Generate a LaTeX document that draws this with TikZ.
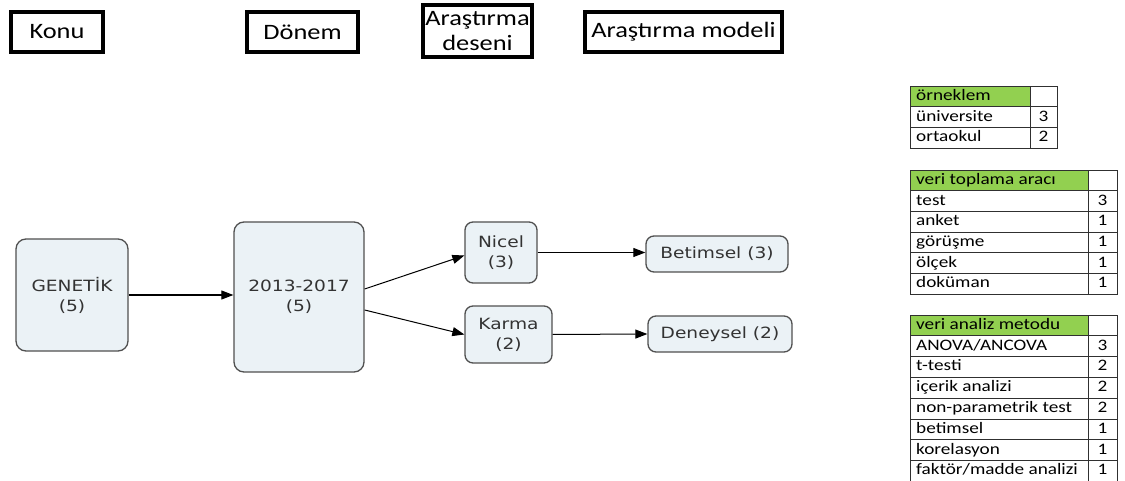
\documentclass[tikz,border=0pt]{standalone}
\usepackage{fontspec}
\setmainfont{Carlito}[FakeStretch=1.2]
\newfontfamily\verd{DejaVu Sans}[FakeStretch=1.2]
\usetikzlibrary{arrows.meta}
\definecolor{nodefill}{HTML}{EBF2F6}
\definecolor{nodeline}{HTML}{505050}
\definecolor{nodetext}{HTML}{333333}
\definecolor{hdrgreen}{HTML}{92D050}
\definecolor{tline}{HTML}{303030}
\tikzset{
 hdr/.style={draw=black, line width=3.5pt, font=\fontsize{22}{25}\selectfont, inner sep=0pt, align=center},
 box/.style={draw=nodeline, fill=nodefill, line width=1.3pt, rounded corners=10pt, text=nodetext,
   font=\verd\fontsize{15.5}{20}\selectfont, align=center, inner sep=0pt},
 smallbox/.style={box, rounded corners=8pt},
 arr/.style={-{Triangle[length=12pt,width=9pt]}, line width=1pt},
 tcell/.style={inner sep=0pt, font=\fontsize{16}{18}\selectfont, text height=11pt, text depth=3pt},
}
\newcommand\tabrow[8]{%
 \path[draw=tline, line width=0.8pt, fill=#8] (#2,#5) rectangle (#3,#5+20.7);
 \path[draw=tline, line width=0.8pt, fill=white] (#3,#5) rectangle (#4,#5+20.7);
 \node[tcell, anchor=west] (#1l) at (#2+6, #5+10.35) {#6};
 \node[tcell] (#1v) at ({(#3+#4)/2}, #5+10.35) {#7};
}
\begin{document}
\begin{tikzpicture}[x=1pt,y=-1pt]
\useasboundingbox[fill=white] (0,0) rectangle (1125,481);
% headers
\node[hdr, minimum width=92pt, minimum height=40pt] (h1) at (57,32) {Konu};
\node[hdr, minimum width=111pt, minimum height=40pt] (h2) at (302.5,32) {Dönem};
\node[hdr, minimum width=109pt, minimum height=52pt] (h3) at (477.5,31) {Araştırma\\deseni};
\node[hdr, minimum width=197pt, minimum height=40pt] (h4) at (683.5,32) {Araştırma modeli};
% flow nodes
\node[box, minimum width=112pt, minimum height=112pt] (gen) at (72,295) {GENETİK\\(5)};
\node[box, minimum width=130pt, minimum height=150pt] (per) at (299,297) {2013-2017\\(5)};
\node[smallbox, minimum width=72pt, minimum height=61pt] (nic) at (501,252.5) {Nicel\\(3)};
\node[smallbox, minimum width=87pt, minimum height=57pt] (kar) at (508.5,334.5) {Karma\\(2)};
\node[smallbox, minimum width=142pt, minimum height=36pt] (bet) at (717,254) {Betimsel (3)};
\node[smallbox, minimum width=144pt, minimum height=36pt] (den) at (720,334) {Deneysel (2)};
% connectors
\draw[arr] (gen.east) -- (gen.east -| per.west);
\draw[arr] ([yshift=8pt]per.east) -- ([yshift=-3pt]nic.west);
\draw[arr] ([yshift=-13pt]per.east) -- (kar.west);
\draw[arr] (nic.east) -- (nic.east -| bet.west);
\draw[arr] (kar.east) -- (den.west);
% table 1
\tabrow{a0}{910}{1030}{1057}{86}{örneklem}{}{hdrgreen}
\tabrow{a1}{910}{1030}{1057}{106.7}{üniversite}{3}{white}
\tabrow{a2}{910}{1030}{1057}{127.4}{ortaokul}{2}{white}
% table 2
\tabrow{b0}{910}{1088}{1117}{170}{veri toplama aracı}{}{hdrgreen}
\tabrow{b1}{910}{1088}{1117}{190.7}{test}{3}{white}
\tabrow{b2}{910}{1088}{1117}{211.4}{anket}{1}{white}
\tabrow{b3}{910}{1088}{1117}{232.1}{görüşme}{1}{white}
\tabrow{b4}{910}{1088}{1117}{252.8}{ölçek}{1}{white}
\tabrow{b5}{910}{1088}{1117}{273.5}{doküman}{1}{white}
% table 3
\tabrow{c0}{910}{1088}{1117}{315}{veri analiz metodu}{}{hdrgreen}
\tabrow{c1}{910}{1088}{1117}{335.8}{ANOVA/ANCOVA}{3}{white}
\tabrow{c2}{910}{1088}{1117}{356.6}{t-testi}{2}{white}
\tabrow{c3}{910}{1088}{1117}{377.4}{içerik analizi}{2}{white}
\tabrow{c4}{910}{1088}{1117}{398.2}{non-parametrik test}{2}{white}
\tabrow{c5}{910}{1088}{1117}{419}{betimsel}{1}{white}
\tabrow{c6}{910}{1088}{1117}{439.8}{korelasyon}{1}{white}
\tabrow{c7}{910}{1088}{1117}{460.6}{faktör/madde analizi}{1}{white}
\end{tikzpicture}
\end{document}
